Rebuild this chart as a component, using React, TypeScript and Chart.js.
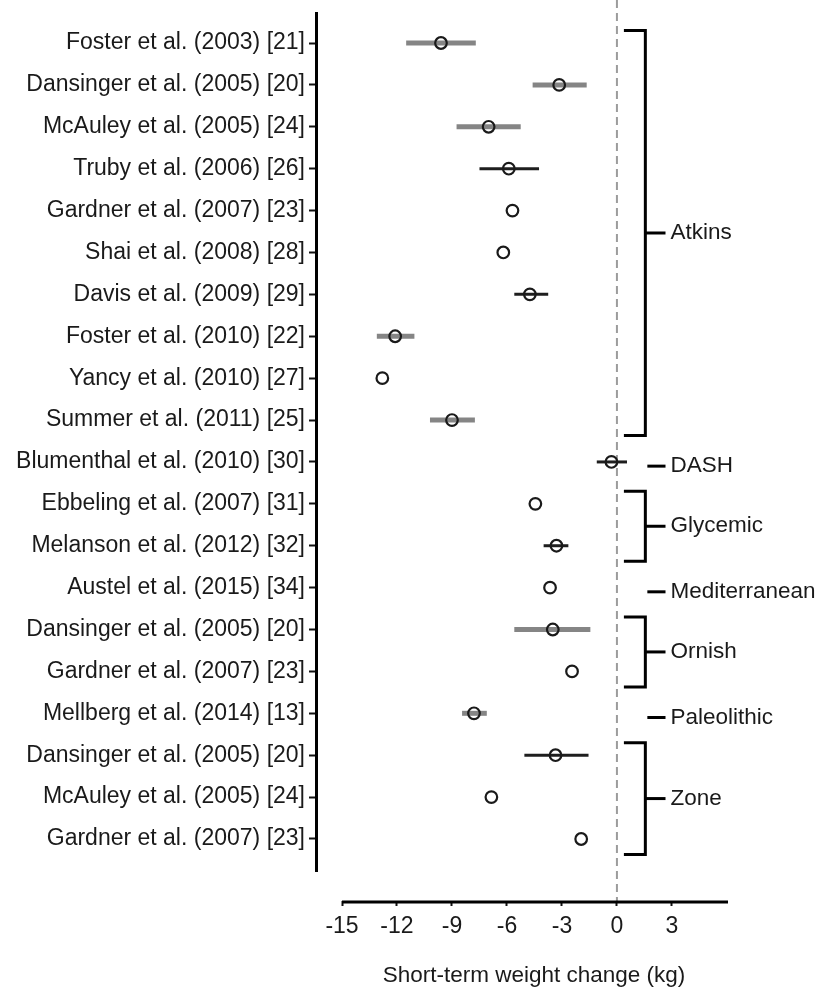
import React, { useEffect, useRef } from "react";
import { Chart, registerables } from "chart.js";

Chart.register(...registerables);

// ---------- data ----------
const studies: string[] = [
  "Foster et al. (2003) [21]",
  "Dansinger et al. (2005) [20]",
  "McAuley et al. (2005) [24]",
  "Truby et al. (2006) [26]",
  "Gardner et al. (2007) [23]",
  "Shai et al. (2008) [28]",
  "Davis et al. (2009) [29]",
  "Foster et al. (2010) [22]",
  "Yancy et al. (2010) [27]",
  "Summer et al. (2011) [25]",
  "Blumenthal et al. (2010) [30]",
  "Ebbeling et al. (2007) [31]",
  "Melanson et al. (2012) [32]",
  "Austel et al. (2015) [34]",
  "Dansinger et al. (2005) [20]",
  "Gardner et al. (2007) [23]",
  "Mellberg et al. (2014) [13]",
  "Dansinger et al. (2005) [20]",
  "McAuley et al. (2005) [24]",
  "Gardner et al. (2007) [23]",
];

const estimates: number[] = [
  -9.6, -3.15, -7.0, -5.9, -5.7, -6.2, -4.75, -12.1, -12.8, -9.0,
  -0.3, -4.45, -3.3, -3.65, -3.5, -2.45, -7.8, -3.35, -6.85, -1.95,
];

const ciLow: (number | null)[] = [
  -11.5, -4.6, -8.75, -7.5, null, null, -5.6, -13.1, null, -10.2,
  -1.1, null, -4.0, null, -5.6, null, -8.45, -5.05, null, null,
];

const ciHigh: (number | null)[] = [
  -7.7, -1.65, -5.25, -4.25, null, null, -3.75, -11.05, null, -7.75,
  0.55, null, -2.65, null, -1.45, null, -7.1, -1.55, null, null,
];

const dietGroups: string[] = ["Atkins", "DASH", "Glycemic", "Mediterranean", "Ornish", "Paleolithic", "Zone"];
const groupFirstRow: number[] = [1, 11, 12, 14, 15, 17, 18];
const groupLastRow: number[] = [10, 11, 13, 14, 16, 17, 20];

const xTickValues: number[] = [-15, -12, -9, -6, -3, 0, 3];
const xAxisTitle = "Short-term weight change (kg)";

// ---------- style ----------
const grayCiRows: number[] = [1, 2, 3, 8, 10, 15, 17];
const FONT = "'Liberation Sans', Arial, Helvetica, sans-serif";
const TEXT = "#1a1a1a";

const X_MIN = -16.31;
const X_MAX = 7.26;
const Y_MIN = 0.26;
const Y_MAX = 21.48;
const AXIS_X_END = 6.06;
const AXIS_Y_END = 20.79;
const BRACKET_X = 1.55;
const ARM_X = 0.38;
const TICK_END_X = 2.65;
const LABEL_X = 2.92;

const forestPlugin = {
  id: "forestDecor",
  beforeDatasetsDraw(chart: any) {
    const { ctx, chartArea, scales } = chart;
    const x0 = scales.x.getPixelForValue(0);
    ctx.save();
    ctx.strokeStyle = "#9c9c9c";
    ctx.lineWidth = 2;
    ctx.setLineDash([8, 5]);
    ctx.beginPath();
    ctx.moveTo(x0, 0);
    ctx.lineTo(x0, chartArea.bottom);
    ctx.stroke();
    ctx.restore();
  },
  afterDraw(chart: any) {
    const { ctx, chartArea, scales } = chart;
    const xs = scales.x;
    const ys = scales.y;
    ctx.save();
    ctx.strokeStyle = "#000";
    ctx.lineCap = "butt";
    // y axis line
    ctx.lineWidth = 3;
    ctx.beginPath();
    ctx.moveTo(chartArea.left - 1.5, ys.getPixelForValue(Y_MIN));
    ctx.lineTo(chartArea.left - 1.5, ys.getPixelForValue(AXIS_Y_END));
    ctx.stroke();
    // x axis line
    ctx.beginPath();
    ctx.moveTo(xs.getPixelForValue(-15), chartArea.bottom + 1);
    ctx.lineTo(xs.getPixelForValue(AXIS_X_END), chartArea.bottom + 1);
    ctx.stroke();

    // brackets
    ctx.lineWidth = 3;
    ctx.fillStyle = TEXT;
    ctx.font = `22.5px ${FONT}`;
    ctx.textAlign = "left";
    ctx.textBaseline = "middle";
    const bx = xs.getPixelForValue(BRACKET_X);
    const ax = xs.getPixelForValue(ARM_X);
    const tx = xs.getPixelForValue(TICK_END_X);
    const lx = xs.getPixelForValue(LABEL_X);
    dietGroups.forEach((name, i) => {
      const first = groupFirstRow[i];
      const last = groupLastRow[i];
      let mid: number;
      if (last > first) {
        const top = ys.getPixelForValue(first - 0.3);
        const bot = ys.getPixelForValue(last + 0.37);
        mid = (top + bot) / 2;
        ctx.beginPath();
        ctx.moveTo(ax, top);
        ctx.lineTo(bx, top);
        ctx.lineTo(bx, bot);
        ctx.lineTo(ax, bot);
        ctx.stroke();
        ctx.beginPath();
        ctx.moveTo(bx, mid);
        ctx.lineTo(tx, mid);
        ctx.stroke();
      } else {
        mid = ys.getPixelForValue(first + 0.1);
        ctx.beginPath();
        ctx.moveTo(bx + 2, mid);
        ctx.lineTo(tx, mid);
        ctx.stroke();
      }
      ctx.fillText(name, lx, mid);
    });
    ctx.restore();
  },
};

export default function App() {
  const canvasRef = useRef<HTMLCanvasElement | null>(null);

  useEffect(() => {
    if (!canvasRef.current) return;
    const rows = studies.map((_, i) => i + 1);

    const ciDatasets: any[] = [];
    rows.forEach((row, i) => {
      const lo = ciLow[i];
      const hi = ciHigh[i];
      if (lo === null || hi === null) return;
      const gray = grayCiRows.includes(row);
      ciDatasets.push({
        type: "line",
        data: [
          { x: lo, y: row },
          { x: hi, y: row },
        ],
        borderColor: gray ? "#858585" : "#1e1e1e",
        borderWidth: gray ? 5 : 3,
        pointRadius: 0,
        showLine: true,
        fill: false,
        order: 2,
      });
    });

    const chart = new Chart(canvasRef.current, {
      type: "scatter",
      data: {
        datasets: [
          {
            type: "scatter",
            data: estimates.map((v, i) => ({ x: v, y: i + 1 })),
            pointRadius: 5.8,
            pointBorderWidth: 2.2,
            pointBorderColor: "#1a1a1a",
            pointBackgroundColor: "rgba(0,0,0,0)",
            order: 0,
          } as any,
          ...ciDatasets,
        ],
      },
      options: {
        responsive: false,
        animation: false,
        devicePixelRatio: 1,
        layout: { padding: { top: 12, left: 0, right: 70, bottom: 0 } },
        plugins: { legend: { display: false }, tooltip: { enabled: false } },
        scales: {
          x: {
            type: "linear",
            position: "bottom",
            min: X_MIN,
            max: X_MAX,
            border: { display: false },
            grid: {
              display: true,
              drawOnChartArea: false,
              drawTicks: true,
              tickLength: 5,
              tickWidth: 2,
              tickColor: "#111",
            },
            ticks: {
              color: TEXT,
              font: { family: FONT, size: 23 },
              padding: 7,
              maxRotation: 0,
              autoSkip: false,
            },
            afterBuildTicks: (scale: any) => {
              scale.ticks = xTickValues.map((v) => ({ value: v }));
            },
            afterFit: (scale: any) => {
              scale.height = 92;
              scale.paddingLeft = 0;
              scale.paddingRight = 0;
            },
            title: {
              display: true,
              text: xAxisTitle,
              color: TEXT,
              font: { family: FONT, size: 22.5 },
              padding: { top: 20, bottom: 4 },
            },
          },
          y: {
            type: "linear",
            reverse: true,
            min: Y_MIN,
            max: Y_MAX,
            border: { display: false },
            grid: {
              display: true,
              drawOnChartArea: false,
              drawTicks: true,
              tickLength: 9,
              tickWidth: 2,
              tickColor: "#111",
            },
            ticks: {
              color: TEXT,
              font: { family: FONT, size: 23 },
              padding: 4,
              autoSkip: false,
              callback: (v: any) => studies[Math.round(Number(v)) - 1] ?? "",
            },
            afterBuildTicks: (scale: any) => {
              scale.ticks = rows.map((r) => ({ value: r }));
            },
            afterFit: (scale: any) => {
              scale.width = 318;
              scale.paddingTop = 0;
              scale.paddingBottom = 0;
            },
          },
        },
      } as any,
      plugins: [forestPlugin],
    });

    return () => chart.destroy();
  }, []);

  return (
    <div style={{ position: "absolute", left: 0, top: 0, width: 820, height: 993, background: "#fff" }}>
      <canvas ref={canvasRef} width={820} height={993} style={{ display: "block" }} />
    </div>
  );
}
